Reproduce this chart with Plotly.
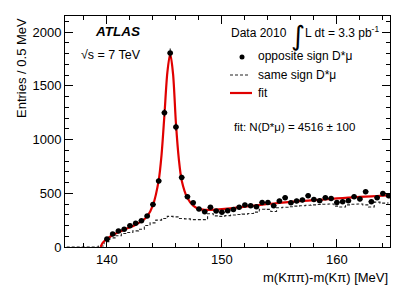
import numpy as np
import plotly.graph_objects as go

# ---------------- data ----------------
# opposite sign D*mu (0.5 MeV bins)
os_x = [140.0, 140.5, 141.0, 141.5, 142.0, 142.5, 143.0, 143.5, 144.0, 144.5,
        145.0, 145.5, 146.0, 146.5, 147.0, 147.5, 148.0, 148.5, 149.0, 149.5,
        150.0, 150.5, 151.0, 151.5, 152.0, 152.5, 153.0, 153.5, 154.0, 154.5,
        155.0, 155.5, 156.0, 156.5, 157.0, 157.5, 158.0, 158.5, 159.0, 159.5,
        160.0, 160.5, 161.0, 161.5, 162.0, 162.5, 163.0, 163.5, 164.0, 164.5]
os_y = [74, 121, 149, 165, 198, 220, 245, 288, 395, 615,
        1249, 1805, 1116, 648, 468, 412, 353, 329, 369, 335,
        323, 338, 350, 369, 391, 385, 375, 415, 415, 385,
        428, 459, 412, 428, 437, 477, 443, 431, 459, 452,
        415, 422, 431, 468, 446, 515, 422, 459, 499, 477]

# same sign D*mu (histogram, 0.5 MeV bins)
ss_x = [136.5, 137.0, 137.5, 138.0, 138.5, 139.0, 139.5, 140.0, 140.5, 141.0,
        141.5, 142.0, 142.5, 143.0, 143.5, 144.0, 144.5, 145.0, 145.5, 146.0,
        146.5, 147.0, 147.5, 148.0, 148.5, 149.0, 149.5, 150.0, 150.5, 151.0,
        151.5, 152.0, 152.5, 153.0, 153.5, 154.0, 154.5, 155.0, 155.5, 156.0,
        156.5, 157.0, 157.5, 158.0, 158.5, 159.0, 159.5, 160.0, 160.5, 161.0,
        161.5, 162.0, 162.5, 163.0, 163.5, 164.0, 164.5]
ss_y = [0, 0, 0, 0, 0, 0, 10, 50, 85, 105,
        125, 135, 150, 165, 200, 225, 250, 265, 285, 280,
        265, 262, 255, 255, 255, 310, 290, 285, 292, 298,
        302, 306, 312, 325, 352, 350, 330, 365, 370, 375,
        380, 384, 388, 392, 395, 398, 400, 380, 372, 392,
        398, 400, 392, 372, 418, 408, 410]

# fit curve
fit_x = [139.45, 139.6, 139.8, 140.0, 140.5, 141.0, 141.5, 142.0, 142.5, 143.0,
         143.5, 144.0, 144.5, 144.75, 145.0, 145.25, 145.5, 145.75, 146.0, 146.25,
         146.5, 147.0, 147.5, 148.0, 148.5, 149.0, 150.0, 151.0, 152.0, 153.0,
         154.0, 155.0, 156.0, 157.0, 158.0, 159.0, 160.0, 161.0, 162.0, 163.0,
         164.0, 164.6]
fit_y = [0, 35, 58, 75, 112, 138, 160, 183, 208, 238,
         285, 390, 620, 860, 1230, 1620, 1800, 1610, 1150, 820,
         620, 455, 385, 355, 345, 346, 352, 362, 375, 388,
         400, 410, 420, 428, 436, 443, 452, 459, 466, 472,
         478, 482]

x_range = [136.35, 164.62]
y_range = [0, 2150]

FONT = "Liberation Sans, Arial, Helvetica, sans-serif"

fig = go.Figure()

fig.add_trace(go.Scatter(
    x=ss_x, y=ss_y, mode="lines", line_shape="hvh",
    line=dict(color="#222222", width=1.1, dash="3px,2px"),
    showlegend=False, hoverinfo="skip"))

fig.add_trace(go.Scatter(
    x=fit_x, y=fit_y, mode="lines", line_shape="spline",
    line=dict(color="#e00000", width=2.2, smoothing=0.8),
    showlegend=False, hoverinfo="skip"))

fig.add_trace(go.Scatter(
    x=os_x, y=os_y, mode="markers",
    marker=dict(color="black", size=5.5, symbol="circle"),
    error_y=dict(type="data", array=list(np.sqrt(os_y)), color="black",
                 thickness=1, width=0),
    error_x=dict(type="constant", value=0.25, color="black",
                 thickness=1, width=0),
    showlegend=False, hoverinfo="skip"))

L, R, T, B = 65, 21, 16, 48
W, H = 411, 295
pw, ph = W - L - R, H - T - B


def px(x):
    return (x - L) / pw


def py(y):
    return (T + ph - y) / ph


annotations = [
    dict(text="<b><i>ATLAS</i></b>", x=px(93), y=py(32), xanchor="left",
         yanchor="middle", font=dict(size=13.5, family=FONT, color="black")),
    dict(text="√s = 7 TeV", x=px(79), y=py(55), xanchor="left",
         yanchor="middle", font=dict(size=12.5, family=FONT, color="black")),
    dict(text="Data 2010", x=px(229), y=py(33), xanchor="left",
         yanchor="middle", font=dict(size=12, family=FONT, color="black")),
    dict(text="∫", x=px(289), y=py(36), xanchor="left",
         yanchor="middle", font=dict(size=27, family="DejaVu Sans", color="black")),
    dict(text="L dt = 3.3 pb<sup>-1</sup>", x=px(303), y=py(32), xanchor="left",
         yanchor="middle", font=dict(size=12, family=FONT, color="black")),
    dict(text="opposite sign D*μ", x=px(256), y=py(56), xanchor="left",
         yanchor="middle", font=dict(size=12, family=FONT, color="black")),
    dict(text="same sign D*μ", x=px(256), y=py(75), xanchor="left",
         yanchor="middle", font=dict(size=12, family=FONT, color="black")),
    dict(text="fit", x=px(256), y=py(93), xanchor="left",
         yanchor="middle", font=dict(size=12, family=FONT, color="black")),
    dict(text="fit: N(D*μ) = 4516 ± 100", x=px(232), y=py(127), xanchor="left",
         yanchor="middle", font=dict(size=11.5, family=FONT, color="black")),
    dict(text="m(Kππ)-m(Kπ) [MeV]", x=1.0, y=py(277), xanchor="right",
         yanchor="middle", font=dict(size=13, family=FONT, color="black")),
    dict(text="Entries / 0.5 MeV", x=px(21), y=1.0, xanchor="center",
         yanchor="top", textangle=-90,
         font=dict(size=13, family=FONT, color="black")),
]
for a in annotations:
    a.update(xref="paper", yref="paper", showarrow=False)

shapes = [
    dict(type="circle", xref="paper", yref="paper",
         x0=px(239.5), x1=px(244.5), y0=py(54.5), y1=py(59.5),
         fillcolor="black", line=dict(width=0)),
    dict(type="line", xref="paper", yref="paper",
         x0=px(230), x1=px(250), y0=py(75), y1=py(75),
         line=dict(color="#222222", width=1.1, dash="3px,2px")),
    dict(type="line", xref="paper", yref="paper",
         x0=px(230), x1=px(252), y0=py(93), y1=py(93),
         line=dict(color="#e00000", width=2.2)),
]

fig.update_layout(
    width=W, height=H,
    margin=dict(l=L, r=R, t=T, b=B),
    paper_bgcolor="white", plot_bgcolor="white",
    annotations=annotations, shapes=shapes,
    font=dict(family=FONT, size=13, color="black"),
)

fig.update_xaxes(
    range=x_range, showgrid=False, zeroline=False,
    showline=True, linecolor="black", linewidth=1, mirror="ticks",
    ticks="inside", ticklen=8, tickwidth=1, tickcolor="black",
    tickvals=[140, 150, 160], ticktext=["140", "150", "160"],
    tickfont=dict(size=13, family=FONT),
    minor=dict(ticks="inside", ticklen=4, tickwidth=1, tickcolor="black",
               dtick=2, tick0=140),
)
fig.update_yaxes(
    range=y_range, showgrid=False, zeroline=False,
    showline=True, linecolor="black", linewidth=1, mirror="ticks",
    ticks="inside", ticklen=8, tickwidth=1, tickcolor="black",
    tickvals=[0, 500, 1000, 1500, 2000],
    ticktext=["0", "500", "1000", "1500", "2000"],
    tickfont=dict(size=13, family=FONT),
    minor=dict(ticks="inside", ticklen=4, tickwidth=1, tickcolor="black",
               dtick=100, tick0=0),
)

fig.write_html("out.html",
               config={"displayModeBar": False, "staticPlot": True},
               post_script="document.body.style.margin='0';"
                           "document.body.style.overflow='hidden';")
